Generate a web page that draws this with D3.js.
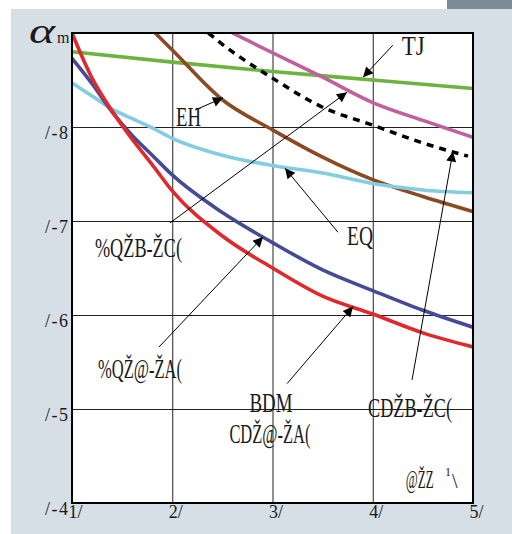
<!DOCTYPE html>
<html>
<head>
<meta charset="utf-8">
<script src="https://cdn.jsdelivr.net/npm/d3@7"></script>
<style>
  body { margin: 0; background: #fff; }
  svg text { font-family: "Liberation Serif", "Times New Roman", Times, "DejaVu Serif", serif; fill: #1a1a1a; }
</style>
</head>
<body>
<div id="chart"></div>
<script>
// constantes
const width = 512
const height = 534
const margin = { top: 33, bottom: 31, left: 72, right: 39 }
const serif = "'Liberation Serif', 'Times New Roman', Times, serif"

// datos
const xTicks = [10, 20, 30, 40, 50]
const xTickLabels = ["1/", "2/", "3/", "4/", "5/"]
const yTicks = [0.4, 0.5, 0.6, 0.7, 0.8]
const yTickLabels = ["/-4", "/-5", "/-6", "/-7", "/-8"]

const xMain = [10, 12, 14, 16, 18, 20, 25, 30, 35, 40, 45, 50]
const redVals = [0.900, 0.852, 0.817, 0.787, 0.760, 0.732, 0.684, 0.650, 0.620, 0.601, 0.581, 0.566]
const blueVals = [0.873, 0.846, 0.816, 0.791, 0.770, 0.749, 0.709, 0.677, 0.648, 0.626, 0.605, 0.587]
const cyanVals = [0.847, 0.833, 0.819, 0.809, 0.799, 0.788, 0.770, 0.759, 0.751, 0.740, 0.733, 0.730]
const xGreen = [10, 20, 30, 40, 50]
const greenVals = [0.880, 0.869, 0.859, 0.850, 0.841]
const xBrown = [18.3, 20, 25, 30, 35, 40, 45, 50]
const brownVals = [0.900, 0.882, 0.829, 0.797, 0.768, 0.744, 0.726, 0.710]
const xPink = [26, 30, 35, 40, 45, 50]
const pinkVals = [0.900, 0.879, 0.853, 0.826, 0.807, 0.789]
const xDash = [23.6, 25, 30, 35, 40, 45, 49.5]
const dashVals = [0.900, 0.888, 0.852, 0.821, 0.802, 0.783, 0.769]

// etiquetas con flecha (coordenadas en unidades de los datos)
const labels = [
  { text: "TJ", x: 42.9, y: 0.877, len: 23, from: [42.0, 0.887], to: [39.03, 0.853] },
  { text: "EH", x: 20.37, y: 0.801, len: 25, from: [22.27, 0.818], to: [25.06, 0.831] },
  { text: "EQ", x: 37.43, y: 0.674, len: 26, from: [36.53, 0.688], to: [31.25, 0.756] },
  { text: "%QŽB-ŽC(", x: 12.29, y: 0.662, len: 87, from: [19.78, 0.698], to: [37.43, 0.837] },
  { text: "%QŽ@-ŽA(", x: 12.59, y: 0.533, len: 84, from: [18.68, 0.566], to: [29.05, 0.683] },
  { text: "BDM", x: 27.7, y: 0.497, len: 43, from: [31.45, 0.527], to: [38.03, 0.609] },
  { text: "CDŽ@-ŽA(", x: 25.7, y: 0.464, len: 81, from: null, to: null },
  { text: "CDŽB-ŽC(", x: 39.53, y: 0.4915, len: 84, from: [43.92, 0.531], to: [48.0, 0.774] }
]

const series = [
  { xs: xGreen, ys: greenVals, color: "#6cb33f", dash: null },
  { xs: xPink, ys: pinkVals, color: "#c0609e", dash: null },
  { xs: xBrown, ys: brownVals, color: "#8b4a22", dash: null },
  { xs: xMain, ys: cyanVals, color: "#82cde0", dash: null },
  { xs: xMain, ys: blueVals, color: "#454b94", dash: null },
  { xs: xMain, ys: redVals, color: "#e1282b", dash: null },
  { xs: xDash, ys: dashVals, color: "#000", dash: "7,6" }
]

// svg
const svg = d3.select("#chart").append("svg").attr("width", width).attr("height", height)

// fondo
svg.append("rect").attr("x", 11).attr("y", 9).attr("width", width - 11).attr("height", height - 9).attr("fill", "#d6dee6")
svg.append("rect").attr("x", 447).attr("y", 0).attr("width", 65).attr("height", 9).attr("fill", "#7a8c98")

const w = width - margin.left - margin.right
const h = height - margin.top - margin.bottom

// escalas
const x = d3.scaleLinear().domain([10, 50]).range([0, w])
const y = d3.scaleLinear().domain([0.4, 0.9]).range([h, 0])

const g = svg.append("g").attr("transform", `translate(${margin.left}, ${margin.top})`)
g.append("rect").attr("width", w).attr("height", h).attr("fill", "#fff")

svg.append("defs").append("clipPath").attr("id", "plotClip")
  .append("rect").attr("width", w).attr("height", h)

svg.select("defs").append("marker")
  .attr("id", "arrow").attr("viewBox", "0 0 10 10").attr("refX", 10).attr("refY", 5)
  .attr("markerWidth", 13).attr("markerHeight", 10).attr("markerUnits", "userSpaceOnUse")
  .attr("orient", "auto")
  .append("path").attr("d", "M0,0 L10,5 L0,10 Z").attr("fill", "#000")

// rejilla
const gridX = d3.axisBottom(x).tickValues(xTicks).tickSize(-h).tickFormat("")
const gridY = d3.axisLeft(y).tickValues(yTicks).tickSize(-w).tickFormat("")
g.append("g").attr("transform", `translate(0, ${h})`).call(gridX)
  .call(s => s.select(".domain").remove())
  .selectAll("line").attr("stroke", "#222").attr("stroke-width", 1)
g.append("g").call(gridY)
  .call(s => s.select(".domain").remove())
  .selectAll("line").attr("stroke", "#222").attr("stroke-width", 1)

// curvas
const line = d3.line().x(d => x(d[0])).y(d => y(d[1])).curve(d3.curveMonotoneX)
const curves = g.append("g").attr("clip-path", "url(#plotClip)")
series.forEach(s => {
  curves.append("path")
    .attr("d", line(s.xs.map((v, i) => [v, s.ys[i]])))
    .attr("fill", "none")
    .attr("stroke", s.color)
    .attr("stroke-width", s.dash ? 3.5 : 3.6)
    .attr("stroke-dasharray", s.dash)
    .attr("stroke-linejoin", "round")
})

// borde
g.append("rect").attr("width", w).attr("height", h).attr("fill", "none").attr("stroke", "#000").attr("stroke-width", 2)

// ejes (etiquetas)
const xAxis = d3.axisBottom(x).tickValues(xTicks).tickSize(0).tickPadding(0).tickFormat((d, i) => xTickLabels[i])
g.append("g").attr("transform", `translate(0, ${h})`).call(xAxis)
  .attr("font-family", serif)
  .call(s => s.select(".domain").remove())
  .selectAll("text")
    .attr("font-size", 18).attr("fill", "#1a1a1a")
    .attr("text-anchor", "start").attr("dx", -4).attr("dy", 0).attr("y", 15)

const yAxis = d3.axisLeft(y).tickValues(yTicks).tickSize(0).tickPadding(0).tickFormat((d, i) => yTickLabels[i])
g.append("g").call(yAxis)
  .attr("font-family", serif)
  .call(s => s.select(".domain").remove())
  .selectAll("text")
    .attr("font-size", 18).attr("fill", "#1a1a1a")
    .attr("x", -4).attr("dy", 11).attr("textLength", 23).attr("lengthAdjust", "spacing")

// titulo del eje y
svg.append("text").attr("x", 29).attr("y", 43).attr("font-size", 36).attr("font-style", "italic")
  .attr("textLength", 26).attr("lengthAdjust", "spacingAndGlyphs").text("α")
svg.append("text").attr("x", 57).attr("y", 43).attr("font-size", 16).text("m")

// etiquetas y flechas
labels.forEach(l => {
  if (l.from) {
    g.append("line")
      .attr("x1", x(l.from[0])).attr("y1", y(l.from[1]))
      .attr("x2", x(l.to[0])).attr("y2", y(l.to[1]))
      .attr("stroke", "#000").attr("stroke-width", 1)
      .attr("marker-end", "url(#arrow)")
  }
  g.append("text")
    .attr("x", x(l.x)).attr("y", y(l.y))
    .attr("font-size", 28)
    .attr("textLength", l.len).attr("lengthAdjust", "spacingAndGlyphs")
    .text(l.text)
})

// unidad del eje x
g.append("text")
  .attr("transform", `translate(${x(43.3)}, ${y(0.416)}) scale(1, 1.9)`)
  .attr("font-size", 13).text("@ŽZ")
const unit = g.append("text").attr("x", x(47.2)).attr("y", y(0.416)).attr("font-size", 20)
unit.append("tspan").attr("font-size", 12).attr("dy", -12).text("1")
unit.append("tspan").attr("dx", 1).attr("dy", 12).text("\\")
</script>
</body>
</html>
